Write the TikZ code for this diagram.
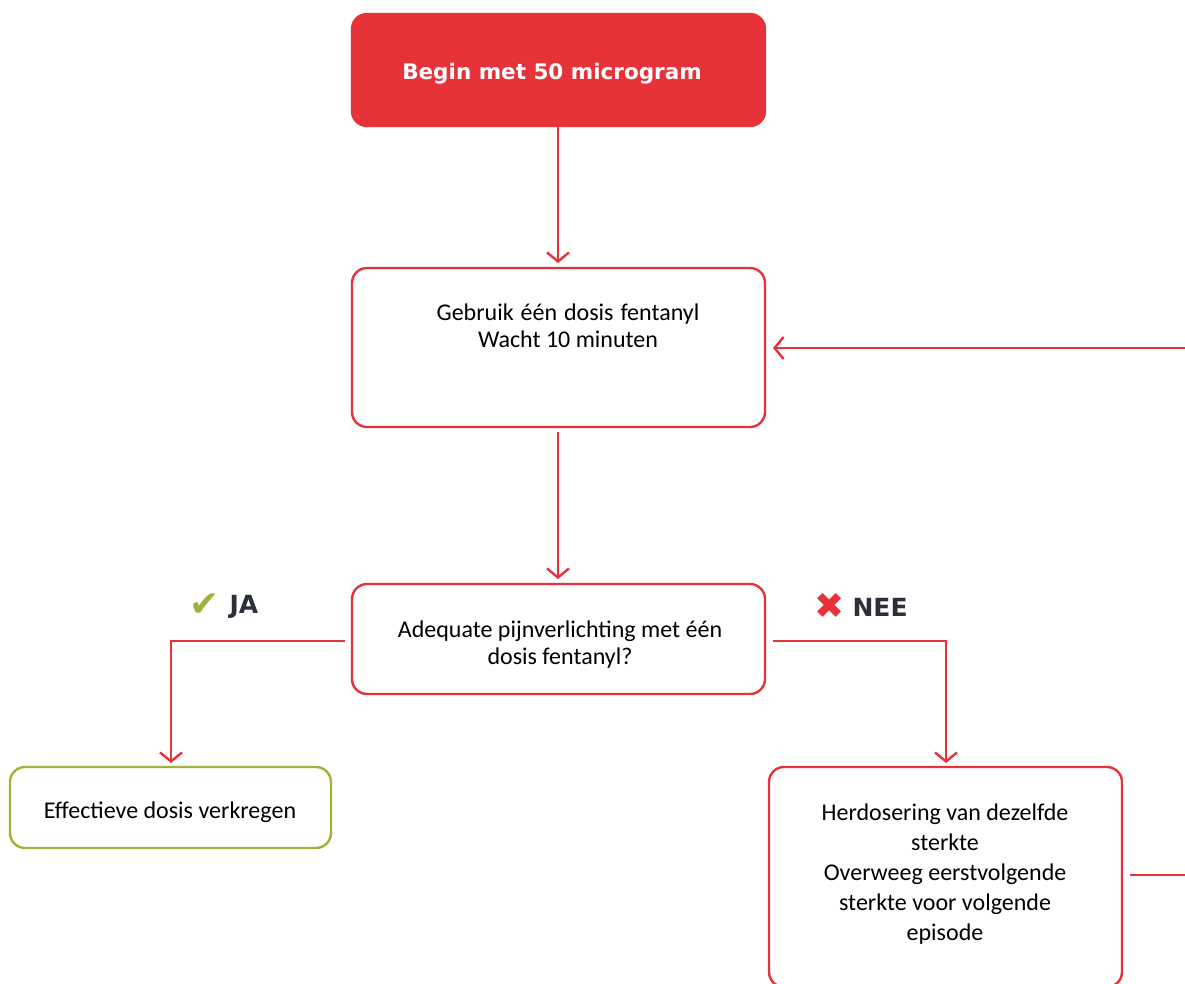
\documentclass[tikz,border=0pt]{standalone}
\usepackage{fontspec}
\setmainfont{Carlito}
\newfontfamily\headfont{DejaVu Sans}
\usetikzlibrary{arrows.meta}
\definecolor{fred}{HTML}{E8323A}
\definecolor{fgreen}{HTML}{9CB43C}
\definecolor{fdark}{HTML}{2A2F38}
\begin{document}
\begin{tikzpicture}[x=1pt,y=-1pt,
  box/.style={draw=fred,line width=2.4pt,rounded corners=15pt,fill=white},
  conn/.style={draw=fred,line width=2.4pt},
  arr/.style={conn,-{Straight Barb[length=9pt,width=22pt,line width=2.4pt]}},
  body/.style={font=\fontsize{24}{27}\selectfont,text=black,align=center},
  lbl/.style={font=\headfont\bfseries\fontsize{25}{28}\selectfont,text=fdark,anchor=west}]
\clip (0,0) rectangle (1185,983);
\fill[white] (0,0) rectangle (1185,983);
% boxes
\draw[box,fill=fred,draw=fred] (352,14) rectangle (765,126);
\node[font=\headfont\bfseries\fontsize{21.5}{25}\selectfont,text=white] (start) at (552,74) {Begin met 50 microgram};
\coordinate (startb) at (558,126);
\draw[box] (352,268) rectangle (765,427);
\coordinate (b2t) at (558,268);
\coordinate (b2b) at (558,427);
\coordinate (b2r) at (765,348);
\node[body] (use) at (568,326) {Gebruik\hspace{1.5pt} één\hspace{1.5pt} dosis\hspace{1.5pt} fentanyl\\Wacht 10 minuten};
\draw[box] (352,584) rectangle (765,694);
\coordinate (b3t) at (558,584);
\coordinate (b3l) at (352,641);
\coordinate (b3r) at (765,641);
\node[body] (q) at (560,645) {Adequate pijnverlichting met één\\dosis fentanyl?};
\draw[box,draw=fgreen] (10,767) rectangle (331,848);
\coordinate (b4t) at (171,767);
\node[body] (eff) at (170,812) {Effectieve dosis verkregen};
\draw[box] (769,767) rectangle (1122,987);
\coordinate (b5t) at (946,767);
\coordinate (b5r) at (1122,875);
\node[body,font=\fontsize{24}{30}\selectfont] (re) at (945,874) {Herdosering van dezelfde\\sterkte\\Overweeg eerstvolgende\\sterkte voor volgende\\episode};
% connectors
\draw[arr,shorten >=5pt] (startb) -- (b2t);
\draw[arr,shorten <=5pt,shorten >=5pt] (b2b) -- (b3t);
\draw[arr,shorten <=7pt,shorten >=4pt] (b3l) -| (b4t);
\draw[arr,shorten <=8pt,shorten >=4pt] (b3r) -| (b5t);
\coordinate (loopa) at (1195,875);
\coordinate (loopb) at (1195,348);
\draw[arr,shorten <=8pt,shorten >=8pt] (b5r) -- (loopa) -- (loopb) -- (b2r);
% labels
\node[font=\headfont\fontsize{36}{40}\selectfont,text=fgreen] (chk) at (205,605) {✔};
\node[lbl] (ja) at (226,607) {JA};
\node[font=\headfont\fontsize{36}{40}\selectfont,text=fred] (crs) at (830,606) {✖};
\node[lbl] (nee) at (849,607) {NEE};
\end{tikzpicture}
\end{document}
